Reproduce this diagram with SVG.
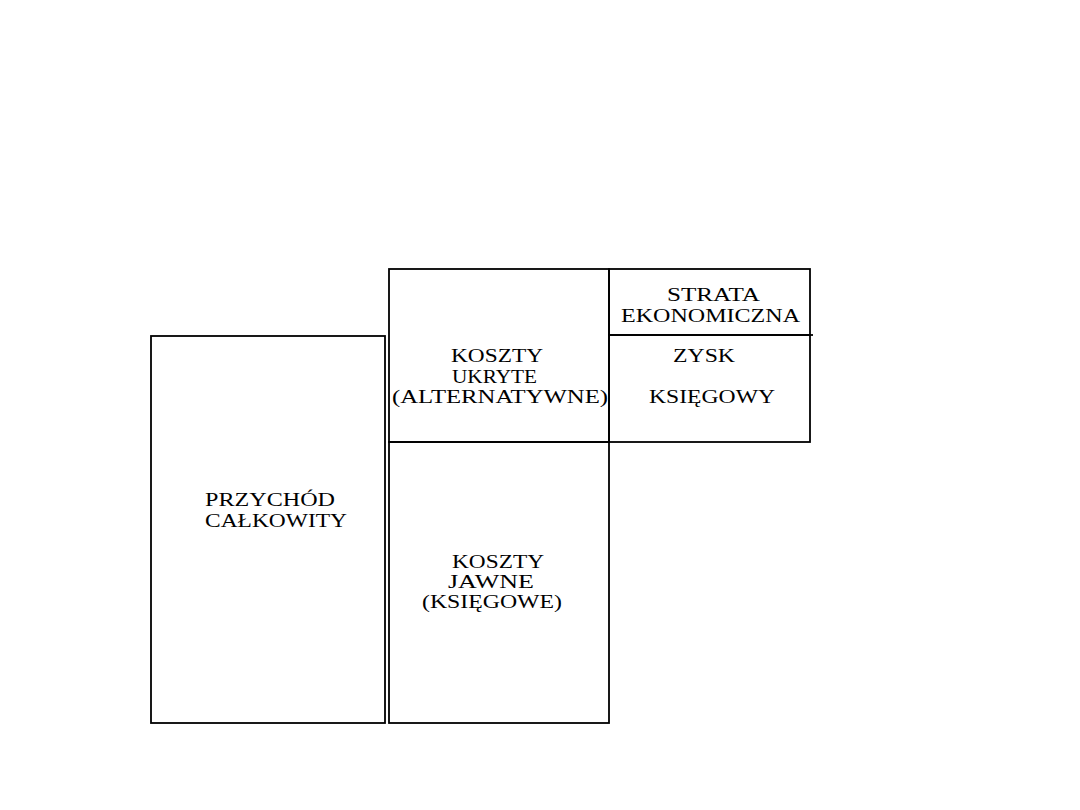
<svg xmlns="http://www.w3.org/2000/svg" width="1080" height="810" viewBox="0 0 1080 810">
<style>
.box{fill:none;stroke:#000;stroke-width:1.8}
.ln{stroke:#000;stroke-width:1.8;fill:none}
text{font-family:"Liberation Serif","Times New Roman",serif;font-size:18.5px;fill:#000}
</style>
<rect width="1080" height="810" fill="#fff"/>
<g id="przychod">
<rect class="box" x="151" y="336" width="234" height="387"/>
<text x="205" y="506" textLength="130" lengthAdjust="spacingAndGlyphs">PRZYCHÓD</text>
<text x="205" y="527" textLength="142" lengthAdjust="spacingAndGlyphs">CAŁKOWITY</text>
</g>
<g id="koszty-ukryte">
<rect class="box" x="389" y="269" width="220" height="173"/>
<text x="451" y="362" textLength="92" lengthAdjust="spacingAndGlyphs">KOSZTY</text>
<text x="452" y="383" textLength="85" lengthAdjust="spacingAndGlyphs">UKRYTE</text>
<text x="392" y="403" textLength="216" lengthAdjust="spacingAndGlyphs">(ALTERNATYWNE)</text>
</g>
<g id="koszty-jawne">
<rect class="box" x="389" y="442" width="220" height="281"/>
<text x="452" y="568" textLength="92" lengthAdjust="spacingAndGlyphs">KOSZTY</text>
<text x="448" y="588" textLength="86" lengthAdjust="spacingAndGlyphs">JAWNE</text>
<text x="422" y="608" textLength="140" lengthAdjust="spacingAndGlyphs">(KSIĘGOWE)</text>
</g>
<g id="strata">
<rect class="box" x="609" y="269" width="201" height="66"/>
<text x="667" y="301" textLength="93" lengthAdjust="spacingAndGlyphs">STRATA</text>
<text x="621" y="322" textLength="179" lengthAdjust="spacingAndGlyphs">EKONOMICZNA</text>
</g>
<g id="zysk">
<rect class="box" x="609" y="335" width="201" height="107"/>
<text x="673" y="362" textLength="62" lengthAdjust="spacingAndGlyphs">ZYSK</text>
<text x="649" y="403" textLength="126" lengthAdjust="spacingAndGlyphs">KSIĘGOWY</text>
</g>
<g id="connectors">
<line class="ln" x1="810" y1="335" x2="813" y2="335"/>
</g>
</svg>
